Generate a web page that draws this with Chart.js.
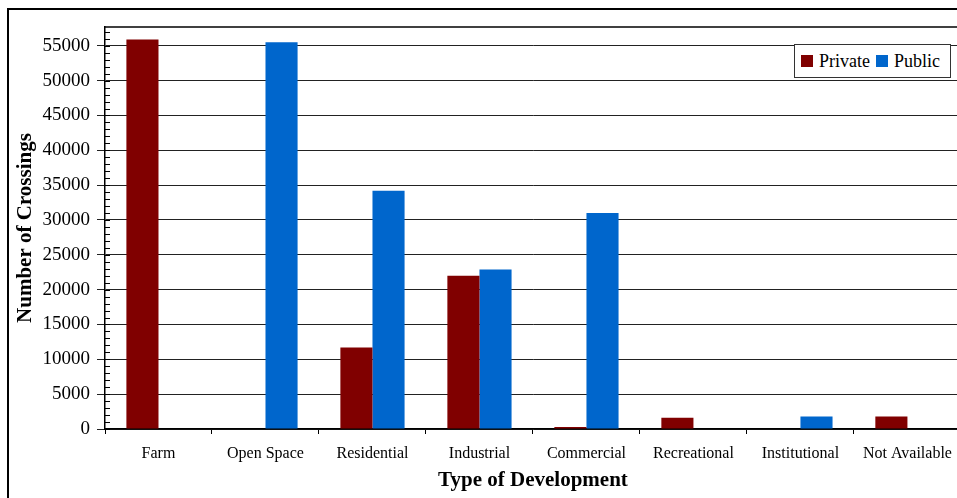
<!DOCTYPE html>
<html>
<head>
<meta charset="utf-8">
<script src="https://cdn.jsdelivr.net/npm/chart.js@4"></script>
<style>
  html, body { margin:0; padding:0; background:#fff; overflow:hidden; }
  #wrap { position:relative; width:957px; height:498px; overflow:hidden; }
  #frame { position:absolute; left:7px; top:8px; width:1000px; height:600px; border:2px solid #000; box-sizing:border-box; }
  #cv { position:absolute; left:0; top:0; }
  #legend { position:absolute; left:794px; top:44px; width:157px; height:34px; border:1px solid #333; box-sizing:border-box; background:#fff;
    font-family:"Liberation Serif","Times New Roman",serif; font-size:18px; color:#000; display:flex; align-items:center; padding-left:6px; }
  #legend .it { display:flex; align-items:center; margin-right:6px; }
  #legend .sw { width:12px; height:12px; margin-right:6px; }
</style>
</head>
<body>
<div id="wrap">
  <div id="frame"></div>
  <canvas id="cv" width="962" height="498" style="width:962px;height:498px"></canvas>
  <div id="legend"></div>
</div>
<script>
const categories = ["Farm", "Open Space", "Residential", "Industrial", "Commercial", "Recreational", "Institutional", "Not Available"];
const privateValues = [55900, 0, 11700, 22000, 300, 1600, 0, 1800];
const publicValues  = [0, 55500, 34200, 22900, 31000, 0, 1800, 0];
const seriesNames = ["Private", "Public"];
const seriesColors = ["#800000", "#0066CC"];
const yTickValues = [0, 5000, 10000, 15000, 20000, 25000, 30000, 35000, 40000, 45000, 50000, 55000];
const yMax = 57700;
const yMinorStep = 1000;

const serif = '"Liberation Serif","Times New Roman",serif';

const frameAndMinor = {
  id: 'frameAndMinor',
  afterDraw(chart) {
    const ctx = chart.ctx, a = chart.chartArea, y = chart.scales.y;
    ctx.save();
    ctx.strokeStyle = '#000';
    ctx.lineWidth = 1.5;
    ctx.beginPath();
    ctx.moveTo(a.left, a.top); ctx.lineTo(a.right, a.top);
    ctx.stroke();
    ctx.lineWidth = 1;
    ctx.beginPath();
    for (let v = 0; v <= yMax; v += yMinorStep) {
      const py = Math.round(y.getPixelForValue(v)) + 0.5;
      ctx.moveTo(a.left, py); ctx.lineTo(a.left + 5, py);
    }
    ctx.stroke();
    ctx.restore();
  }
};

const chart = new Chart(document.getElementById('cv'), {
  type: 'bar',
  data: {
    labels: categories,
    datasets: [
      { label: seriesNames[0], data: privateValues, backgroundColor: seriesColors[0], borderWidth: 0 },
      { label: seriesNames[1], data: publicValues, backgroundColor: seriesColors[1], borderWidth: 0 }
    ]
  },
  options: {
    responsive: false,
    animation: false,
    layout: { padding: { left: 8, right: 1, top: 27, bottom: 0 } },
    plugins: { legend: { display: false }, tooltip: { enabled: false } },
    datasets: { bar: { categoryPercentage: 0.6, barPercentage: 1.0 } },
    scales: {
      x: {
        grid: { display: true, drawOnChartArea: false, tickLength: 5, color: '#000', offset: true },
        border: { display: true, color: '#000', width: 1.5 },
        ticks: { font: { family: serif, size: 16 }, color: '#000', padding: 10, maxRotation: 0, autoSkip: false },
        title: { display: true, text: 'Type of Development', font: { family: serif, size: 21, weight: 'bold' }, color: '#000', padding: { top: 0, bottom: 5 } },
        afterFit(s) { s.height = 69; }
      },
      y: {
        min: 0, max: yMax,
        grid: { color: '#222', tickLength: 8, lineWidth: 1 },
        border: { display: true, color: '#000', width: 1.5 },
        ticks: { font: { family: serif, size: 19 }, color: '#000', padding: 7, callback: v => String(v) },
        afterBuildTicks(s) { s.ticks = yTickValues.map(v => ({ value: v })); },
        title: { display: true, text: 'Number of Crossings', font: { family: serif, size: 21, weight: 'bold' }, color: '#000', padding: { top: 5, bottom: 0 } },
        afterFit(s) { s.width = 97; }
      }
    }
  },
  plugins: [frameAndMinor]
});

const lg = document.getElementById('legend');
chart.data.datasets.forEach(ds => {
  const it = document.createElement('div'); it.className = 'it';
  const sw = document.createElement('div'); sw.className = 'sw'; sw.style.background = ds.backgroundColor;
  const tx = document.createElement('span'); tx.textContent = ds.label;
  it.appendChild(sw); it.appendChild(tx); lg.appendChild(it);
});
</script>
</body>
</html>
